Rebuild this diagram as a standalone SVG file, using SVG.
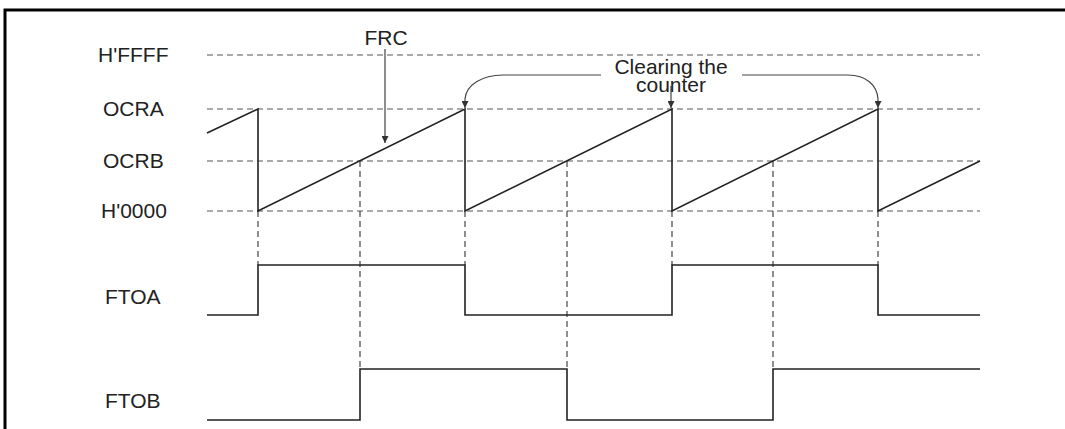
<svg xmlns="http://www.w3.org/2000/svg" width="1065" height="429" viewBox="0 0 1065 429">
<style>
text{font-family:"Liberation Sans",Arial,sans-serif;font-size:21px;fill:#222}
.grid{stroke:#555;stroke-width:1.2;stroke-dasharray:6 4;fill:none}
.vd{stroke:#333;stroke-width:1.1;stroke-dasharray:6 4;fill:none}
.wave{stroke:#222;stroke-width:1.6;fill:none;stroke-linejoin:miter}
.arr{stroke:#444;stroke-width:1.2;fill:none}
</style>
<defs>
<marker id="ah" viewBox="0 0 10 10" refX="10" refY="5" markerWidth="10" markerHeight="7" markerUnits="userSpaceOnUse" orient="auto">
<path d="M0,0 L10,5 L0,10 z" fill="#333"/>
</marker>
</defs>
<rect width="1065" height="429" fill="#fff"/>
<g id="frame" stroke="#000" stroke-width="3" fill="none">
<path d="M5,429 V10 H1065"/>
</g>
<g id="labels">
<text x="98" y="62">H'FFFF</text>
<text x="103" y="116">OCRA</text>
<text x="103" y="168">OCRB</text>
<text x="101" y="218">H'0000</text>
<text x="105" y="304">FTOA</text>
<text x="105" y="408">FTOB</text>
</g>
<g id="grid">
<line class="grid" x1="207" y1="55" x2="980" y2="55"/>
<line class="grid" x1="207" y1="109" x2="980" y2="109"/>
<line class="grid" x1="207" y1="161" x2="980" y2="161"/>
<line class="grid" x1="207" y1="211" x2="980" y2="211"/>
</g>
<g id="connectors">
<line class="vd" x1="258" y1="211" x2="258" y2="265"/>
<line class="vd" x1="360" y1="161" x2="360" y2="369"/>
<line class="vd" x1="465" y1="211" x2="465" y2="265"/>
<line class="vd" x1="567" y1="161" x2="567" y2="369"/>
<line class="vd" x1="672" y1="211" x2="672" y2="265"/>
<line class="vd" x1="773" y1="161" x2="773" y2="369"/>
<line class="vd" x1="878" y1="211" x2="878" y2="265"/>
<line class="arr" x1="385" y1="49" x2="385" y2="143" marker-end="url(#ah)"/>
<path class="arr" d="M601,75 H503 C482,75 466,85 465,99 L465,108" marker-end="url(#ah)"/>
<path class="arr" d="M742,75 H848 C866,75 877,85 878,99 L878,108" marker-end="url(#ah)"/>
<line class="arr" x1="671" y1="86" x2="671" y2="108" marker-end="url(#ah)"/>
</g>
<g id="frc">
<path class="wave" d="M207,133 L258,109 L258,211 L465,109 L465,211 L672,109 L672,211 L878,109 L878,211 L980,161"/>
<text x="386" y="45" text-anchor="middle">FRC</text>
</g>
<g id="clearing">
<text x="671" y="74" text-anchor="middle">Clearing the</text>
<text x="671" y="92" text-anchor="middle">counter</text>
</g>
<g id="ftoa">
<path class="wave" d="M207,315 H258 V265 H465 V315 H672 V265 H878 V315 H980"/>
</g>
<g id="ftob">
<path class="wave" d="M207,420 H360 V369 H567 V420 H773 V369 H980"/>
</g>
</svg>
